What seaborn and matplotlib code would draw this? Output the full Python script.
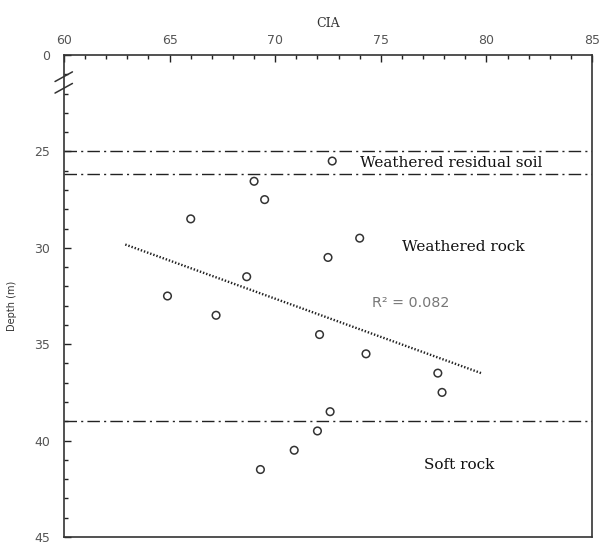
import matplotlib
matplotlib.use("Agg")
import matplotlib.pyplot as plt
import seaborn as sns
import numpy as np
import pandas as pd
from matplotlib.ticker import FixedLocator, MultipleLocator

# ---- data ----
cia = [72.7, 69.0, 69.5, 66.0, 74.0, 72.5, 68.65, 64.9, 67.2, 72.1, 74.3, 77.7, 77.9, 72.6, 72.0, 70.9, 69.3]
depth = [25.5, 26.55, 27.5, 28.5, 29.5, 30.5, 31.5, 32.5, 33.5, 34.5, 35.5, 36.5, 37.5, 38.5, 39.5, 40.5, 41.5]
trend_x = [62.9, 79.8]
trend_y = [29.83, 36.52]
boundaries = [25.0, 26.15, 39.0]
x_ticks = [60, 65, 70, 75, 80, 85]
y_ticks = [20, 25, 30, 35, 40, 45]
y_tick_labels = ["0", "25", "30", "35", "40", "45"]
r2_text = "R\u00b2 = 0.082"

sns.set_theme(style="white")
plt.rcParams["font.family"] = ["DejaVu Sans"]

fig = plt.figure(figsize=(6.01, 5.45), dpi=100)
ax = fig.add_axes([64 / 601, 1 - 537 / 545, (592 - 64) / 601, (537 - 55) / 545])

df = pd.DataFrame({"CIA": cia, "Depth": depth})
tr = pd.DataFrame({"x": trend_x, "y": trend_y})

for b in boundaries:
    ax.axhline(b, color="#222222", lw=1.0, ls=(0, (9, 3, 1.5, 3)), zorder=1)

sns.lineplot(data=tr, x="x", y="y", ax=ax, color="#222222", lw=1.7,
             linestyle=(0, (0.6, 0.8)), zorder=2)
sns.scatterplot(data=df, x="CIA", y="Depth", ax=ax, s=30, marker="o",
                facecolors="none", edgecolor="#333333", linewidth=1.1, zorder=3)

ax.set_xlim(60, 85)
ax.set_ylim(45, 20)

ax.xaxis.set_major_locator(FixedLocator(x_ticks))
ax.xaxis.set_minor_locator(MultipleLocator(1))
ax.yaxis.set_major_locator(FixedLocator(y_ticks))
ax.yaxis.set_ticklabels(y_tick_labels)
ax.yaxis.set_minor_locator(MultipleLocator(1))

ax.xaxis.tick_top()
ax.xaxis.set_label_position("top")
ax.tick_params(axis="x", which="both", direction="in", top=True, bottom=False,
               labeltop=True, labelbottom=False, colors="#222222",
               labelcolor="#555555", labelsize=9, pad=6)
ax.tick_params(axis="y", which="both", direction="in", left=True, right=False,
               colors="#222222", labelcolor="#555555", labelsize=9, pad=10)
ax.tick_params(which="major", length=5, width=1)
ax.tick_params(which="minor", length=3, width=1)

for s in ax.spines.values():
    s.set_visible(True)
    s.set_linewidth(1.2)
    s.set_color("#333333")

ax.set_xlabel("CIA", family="DejaVu Serif", fontsize=9, color="#333333", labelpad=5)
ax.set_ylabel("Depth (m)", fontsize=7, color="#333333")
ax.yaxis.set_label_coords(-0.089, 0.48)

ax.text(74.0, 25.6, "Weathered residual soil", family="DejaVu Serif", fontsize=11,
        ha="left", va="center", color="#111111")
ax.text(76.0, 29.97, "Weathered rock", family="DejaVu Serif", fontsize=11,
        ha="left", va="center", color="#111111")
ax.text(77.05, 41.26, "Soft rock", family="DejaVu Serif", fontsize=11,
        ha="left", va="center", color="#111111")
ax.text(74.6, 32.87, r2_text, fontsize=10.3, ha="left", va="center", color="#777777")

# axis break marks
for dy in (0.0, 0.024):
    ax.plot([-0.017, 0.016], [0.945 - dy, 0.965 - dy], transform=ax.transAxes,
            color="#333333", lw=1.1, clip_on=False)

fig.savefig("out.png", dpi=100, facecolor="white")
